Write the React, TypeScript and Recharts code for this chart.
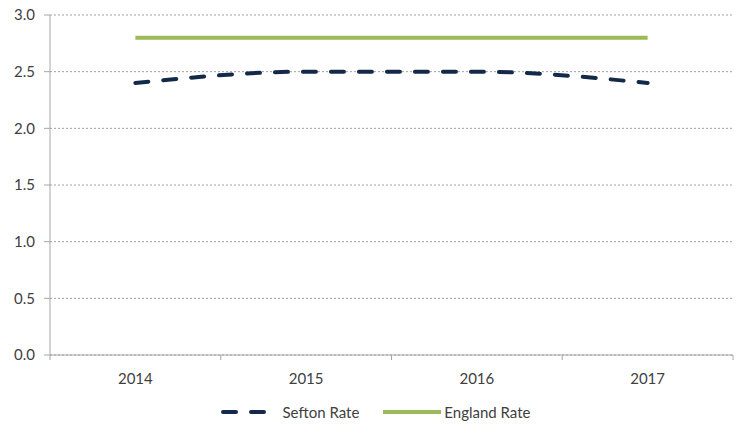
import React from "react";
import {
  ComposedChart,
  Line,
  XAxis,
  YAxis,
  CartesianGrid,
  Legend,
} from "recharts";

const years = ["2014", "2015", "2016", "2017"];
const seftonRate = [2.4, 2.5, 2.5, 2.4];
const englandRate = [2.8, 2.8, 2.8, 2.8];
const yTicks = [0, 0.5, 1, 1.5, 2, 2.5, 3];

const data = years.map((year, i) => ({
  year,
  sefton: seftonRate[i],
  england: englandRate[i],
}));

const W = 741;
const H = 429;
const LEFT = 50;
const RIGHT = 8;
const NAVY = "#14294a";
const GREEN = "#9bbb59";
const AXIS = "#a6a6a6";
const TEXT = "#404040";
const FONT = "Lato, 'Open Sans', sans-serif";

const bandWidth = (W - LEFT - RIGHT) / years.length;

/** category label in the middle, tick marks on band edges */
function YearTick(props: {
  x?: number;
  y?: number;
  index?: number;
  payload?: { value: string };
}) {
  const { x = 0, y = 0, index = 0, payload } = props;
  const left = x - bandWidth / 2;
  const right = x + bandWidth / 2;
  return (
    <g>
      <line x1={left} y1={y} x2={left} y2={y + 5} stroke={AXIS} />
      {index === years.length - 1 && (
        <line x1={right} y1={y} x2={right} y2={y + 5} stroke={AXIS} />
      )}
      <text
        x={x}
        y={y + 29}
        textAnchor="middle"
        fill={TEXT}
        fontSize={15}
        fontFamily={FONT}
      >
        {payload?.value}
      </text>
    </g>
  );
}

function ChartLegend() {
  const item: React.CSSProperties = {
    display: "flex",
    alignItems: "center",
  };
  return (
    <div
      style={{
        display: "flex",
        justifyContent: "center",
        alignItems: "center",
        fontFamily: FONT,
        fontSize: 15,
        color: TEXT,
        position: "relative",
        left: 9,
        top: 3,
      }}
    >
      <div style={item}>
        <svg width={46} height={10}>
          <line
            x1={2}
            y1={5}
            x2={44}
            y2={5}
            stroke={NAVY}
            strokeWidth={4}
            strokeDasharray="13 15"
            strokeLinecap="round"
          />
        </svg>
        <span style={{ marginLeft: 16 }}>Sefton Rate</span>
      </div>
      <div style={{ ...item, marginLeft: 24 }}>
        <svg width={58} height={10}>
          <line x1={0} y1={5} x2={58} y2={5} stroke={GREEN} strokeWidth={4} />
        </svg>
        <span style={{ marginLeft: 3 }}>England Rate</span>
      </div>
    </div>
  );
}

export default function App() {
  return (
    <div style={{ position: "absolute", left: 0, top: 0, width: W, height: H }}>
      <ComposedChart
        width={W}
        height={H}
        data={data}
        margin={{ top: 15, right: RIGHT, left: 0, bottom: 0 }}
      >
        <CartesianGrid
          vertical={false}
          stroke="#a0a0a0"
          strokeDasharray="2 2"
        />
        <XAxis
          dataKey="year"
          scale="band"
          height={45}
          axisLine={{ stroke: AXIS }}
          tickLine={false}
          tickSize={0}
          tickMargin={0}
          interval={0}
          tick={<YearTick />}
        />
        <YAxis
          width={LEFT}
          domain={[0, 3]}
          ticks={yTicks}
          interval={0}
          tickFormatter={(v: number) => v.toFixed(1)}
          axisLine={{ stroke: AXIS }}
          tickLine={{ stroke: AXIS }}
          tickSize={6}
          tickMargin={9}
          tick={{ fill: TEXT, fontSize: 15, fontFamily: FONT }}
        />
        <Legend
          verticalAlign="bottom"
          height={29}
          content={<ChartLegend />}
        />
        <Line
          dataKey="sefton"
          name="Sefton Rate"
          type="monotone"
          stroke={NAVY}
          strokeWidth={4}
          strokeDasharray="13 15"
          strokeLinecap="round"
          dot={false}
          activeDot={false}
          isAnimationActive={false}
        />
        <Line
          dataKey="england"
          name="England Rate"
          type="linear"
          stroke={GREEN}
          strokeWidth={4}
          dot={false}
          activeDot={false}
          isAnimationActive={false}
        />
      </ComposedChart>
    </div>
  );
}
